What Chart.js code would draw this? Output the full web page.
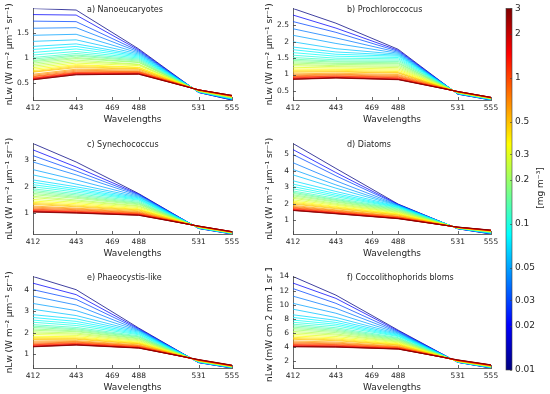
<!DOCTYPE html>
<html><head><meta charset="utf-8">
<script src="https://cdn.jsdelivr.net/npm/chart.js@4.4.1/dist/chart.umd.min.js"></script>
<style>
html,body{margin:0;padding:0;background:#fff;overflow:hidden;width:550px;height:394px;}
#wrap{position:relative;width:550px;height:394px;overflow:hidden;}
canvas{position:absolute;}
</style></head><body><div id="wrap"></div>
<script>
// ---------- data ----------
const chl = [0.01,0.02,0.03,0.04,0.05,0.06,0.07,0.08,0.09,0.1,
             0.12,0.14,0.16,0.18,0.2,0.23,0.26,0.3,0.35,0.4,0.45,0.5,0.6,0.7,0.8,0.9,1,1.2,1.5,2,2.5,3];
const wavelengths = [412,443,488,531,555];
const xTicks = [412,443,469,488,531,555];
const cbTicks = [0.01,0.02,0.03,0.05,0.1,0.2,0.3,0.5,1,2,3];

// a) Nanoeucaryotes
const a412 = [1.98,1.86,1.73,1.59,1.45,1.33,1.23,1.17,1.11,1.06,
  1.01,0.98,0.95,0.93,0.90,0.87,0.84,0.81,0.78,0.75,0.73,0.72,0.68,0.66,0.64,0.63,0.61,0.60,0.59,0.58,0.57,0.57];
const a443 = [1.95,1.85,1.72,1.60,1.47,1.36,1.28,1.23,1.18,1.13,
  1.09,1.06,1.04,1.01,0.99,0.96,0.93,0.90,0.87,0.85,0.83,0.81,0.78,0.76,0.74,0.72,0.71,0.70,0.69,0.68,0.67,0.67];
const a488 = [1.18,1.16,1.14,1.12,1.10,1.08,1.06,1.04,1.02,1.00,
  0.98,0.96,0.94,0.92,0.91,0.88,0.87,0.85,0.82,0.81,0.79,0.78,0.76,0.74,0.73,0.72,0.71,0.70,0.69,0.69,0.68,0.68];
const a531 = [0.32,0.32,0.32,0.33,0.33,0.33,0.33,0.33,0.34,0.34,
  0.34,0.34,0.34,0.35,0.35,0.35,0.35,0.35,0.36,0.36,0.36,0.36,0.36,0.36,0.37,0.37,0.37,0.37,0.37,0.37,0.37,0.37];
const a555 = [0.17,0.17,0.18,0.18,0.19,0.19,0.19,0.20,0.20,0.20,
  0.21,0.21,0.21,0.22,0.22,0.22,0.23,0.23,0.23,0.24,0.24,0.24,0.24,0.25,0.25,0.25,0.25,0.25,0.26,0.26,0.26,0.26];
const aTicks = [0.5,1,1.5];

// b) Prochloroccocus
const b412 = [3.02,2.82,2.62,2.40,2.20,2.00,1.84,1.76,1.67,1.59,
  1.52,1.47,1.43,1.39,1.35,1.31,1.27,1.22,1.17,1.13,1.10,1.07,1.02,0.99,0.96,0.94,0.92,0.90,0.88,0.86,0.86,0.85];
const b443 = [2.57,2.42,2.29,2.12,1.95,1.79,1.69,1.62,1.56,1.50,
  1.45,1.41,1.38,1.34,1.31,1.27,1.24,1.20,1.16,1.13,1.10,1.08,1.04,1.01,0.99,0.96,0.95,0.93,0.91,0.90,0.90,0.89];
const b488 = [1.77,1.74,1.71,1.68,1.65,1.62,1.59,1.56,1.52,1.48,
  1.44,1.40,1.36,1.33,1.29,1.25,1.21,1.17,1.13,1.09,1.06,1.04,1.00,0.97,0.94,0.92,0.90,0.88,0.86,0.85,0.85,0.84];
const b531 = [0.40,0.40,0.41,0.41,0.41,0.42,0.42,0.42,0.43,0.43,
  0.43,0.44,0.44,0.44,0.45,0.45,0.45,0.45,0.46,0.46,0.46,0.46,0.47,0.47,0.47,0.47,0.47,0.48,0.48,0.48,0.48,0.48];
const b555 = [0.22,0.22,0.23,0.23,0.23,0.24,0.24,0.24,0.25,0.25,
  0.25,0.26,0.26,0.26,0.27,0.27,0.27,0.27,0.28,0.28,0.28,0.28,0.29,0.29,0.29,0.29,0.29,0.30,0.30,0.30,0.30,0.30];
const bTicks = [0.5,1,1.5,2,2.5];

// c) Synechococcus
const c412 = [3.64,3.40,3.18,2.94,2.65,2.45,2.26,2.17,2.08,2.00,
  1.92,1.86,1.81,1.75,1.70,1.64,1.59,1.52,1.46,1.41,1.37,1.33,1.27,1.23,1.19,1.15,1.13,1.10,1.08,1.06,1.05,1.04];
const c443 = [2.94,2.75,2.60,2.45,2.26,2.10,2.00,1.92,1.86,1.80,
  1.74,1.69,1.64,1.60,1.56,1.50,1.46,1.41,1.36,1.31,1.27,1.24,1.19,1.16,1.13,1.10,1.07,1.05,1.03,1.02,1.01,1.00];
const c488 = [1.74,1.72,1.70,1.67,1.64,1.61,1.58,1.55,1.52,1.49,
  1.45,1.41,1.38,1.35,1.32,1.28,1.25,1.21,1.17,1.14,1.12,1.09,1.06,1.03,1.01,0.99,0.97,0.96,0.94,0.93,0.92,0.92];
const c531 = [0.42,0.42,0.43,0.43,0.43,0.44,0.44,0.44,0.45,0.45,
  0.45,0.46,0.46,0.46,0.47,0.47,0.47,0.48,0.48,0.48,0.49,0.49,0.49,0.49,0.50,0.50,0.50,0.50,0.51,0.51,0.51,0.51];
const c555 = [0.21,0.21,0.22,0.22,0.22,0.23,0.23,0.23,0.24,0.24,
  0.24,0.25,0.25,0.25,0.26,0.26,0.26,0.27,0.27,0.27,0.28,0.28,0.28,0.28,0.29,0.29,0.29,0.29,0.30,0.30,0.30,0.30];
const cTicks = [1,2,3];

// d) Diatoms
const d412 = [5.67,5.30,5.00,4.50,4.09,3.76,3.40,3.20,3.05,2.91,
  2.78,2.70,2.63,2.55,2.48,2.40,2.33,2.24,2.16,2.09,2.03,1.98,1.90,1.84,1.79,1.75,1.71,1.67,1.64,1.61,1.60,1.59];
const d443 = [4.15,3.90,3.70,3.40,3.15,2.95,2.75,2.62,2.52,2.43,
  2.33,2.26,2.21,2.15,2.10,2.03,1.97,1.91,1.84,1.79,1.74,1.70,1.63,1.59,1.55,1.51,1.48,1.46,1.43,1.41,1.40,1.39];
const d488 = [1.98,1.96,1.94,1.92,1.90,1.88,1.85,1.82,1.79,1.76,
  1.72,1.68,1.64,1.60,1.56,1.52,1.48,1.44,1.39,1.36,1.32,1.30,1.25,1.22,1.20,1.17,1.15,1.13,1.12,1.10,1.10,1.09];
const d531 = [0.48,0.48,0.49,0.49,0.50,0.50,0.50,0.51,0.51,0.51,
  0.52,0.52,0.52,0.53,0.53,0.53,0.54,0.54,0.54,0.55,0.55,0.55,0.56,0.56,0.56,0.56,0.57,0.57,0.57,0.58,0.58,0.58];
const d555 = [0.16,0.17,0.18,0.19,0.20,0.21,0.22,0.23,0.24,0.25,
  0.26,0.27,0.28,0.29,0.30,0.30,0.31,0.32,0.33,0.33,0.34,0.35,0.35,0.36,0.36,0.37,0.37,0.38,0.38,0.39,0.39,0.40];
const dTicks = [1,2,3,4,5];

// e) Phaeocystis-like
const e412 = [4.61,4.30,4.00,3.70,3.36,3.09,2.84,2.71,2.59,2.49,
  2.38,2.31,2.25,2.18,2.12,2.05,1.99,1.92,1.84,1.78,1.73,1.69,1.62,1.57,1.52,1.48,1.45,1.42,1.39,1.37,1.36,1.35];
const e443 = [4.00,3.77,3.55,3.29,3.03,2.80,2.65,2.53,2.43,2.34,
  2.25,2.19,2.14,2.09,2.05,1.99,1.94,1.88,1.82,1.77,1.73,1.70,1.64,1.60,1.57,1.54,1.51,1.49,1.46,1.45,1.44,1.43];
const e488 = [2.22,2.19,2.16,2.13,2.10,2.07,2.03,1.99,1.95,1.91,
  1.86,1.82,1.79,1.75,1.72,1.68,1.64,1.60,1.56,1.53,1.50,1.48,1.44,1.41,1.39,1.36,1.35,1.33,1.31,1.30,1.30,1.29];
const e531 = [0.62,0.62,0.63,0.63,0.64,0.64,0.65,0.65,0.66,0.66,
  0.67,0.67,0.68,0.68,0.69,0.69,0.70,0.70,0.71,0.71,0.72,0.72,0.72,0.73,0.73,0.74,0.74,0.74,0.75,0.75,0.76,0.76];
const e555 = [0.37,0.37,0.38,0.38,0.39,0.39,0.40,0.40,0.41,0.41,
  0.42,0.42,0.43,0.43,0.43,0.44,0.44,0.45,0.45,0.45,0.46,0.46,0.47,0.47,0.47,0.48,0.48,0.48,0.49,0.49,0.50,0.50];
const eTicks = [1,2,3,4];

// f) Coccolithophorids bloms
const f412 = [14.0,13.07,12.29,11.22,10.2,9.37,8.58,8.21,7.84,7.52,
  7.25,7.03,6.83,6.64,6.45,6.23,6.03,5.81,5.59,5.39,5.23,5.11,4.88,4.72,4.59,4.47,4.37,4.27,4.18,4.11,4.08,4.05];
const f443 = [11.36,10.9,10.2,9.5,8.8,8.2,7.8,7.5,7.24,7.0,
  6.75,6.56,6.39,6.23,6.06,5.87,5.71,5.51,5.32,5.16,5.02,4.91,4.72,4.58,4.47,4.36,4.28,4.19,4.11,4.06,4.03,4.00];
const f488 = [6.4,6.3,6.2,6.1,6.0,5.9,5.8,5.7,5.6,5.5,
  5.35,5.24,5.14,5.04,4.94,4.83,4.73,4.62,4.50,4.41,4.32,4.26,4.14,4.06,4.00,3.93,3.88,3.83,3.79,3.75,3.74,3.72];
const f531 = [1.85,1.86,1.87,1.88,1.89,1.90,1.91,1.92,1.93,1.94,
  1.95,1.96,1.97,1.98,1.99,2.00,2.01,2.02,2.03,2.04,2.05,2.06,2.08,2.09,2.10,2.12,2.13,2.14,2.16,2.17,2.19,2.20];
const f555 = [1.05,1.06,1.08,1.09,1.11,1.12,1.14,1.15,1.17,1.18,
  1.20,1.21,1.23,1.24,1.26,1.27,1.29,1.30,1.32,1.33,1.35,1.36,1.38,1.39,1.41,1.42,1.44,1.45,1.46,1.47,1.49,1.50];
const fTicks = [2,4,6,8,10,12,14];

const titles = ['a) Nanoeucaryotes','b) Prochloroccocus','c) Synechococcus','d) Diatoms','e) Phaeocystis-like','f) Coccolithophorids bloms'];
const ylabelW = 'nLw (W m\u207B\u00B2 \u03BCm\u207B\u00B9 sr\u207B\u00B9)';
const ylabelF = 'nLw (mW cm 2 mm 1 sr 1)';
const cbLabel = '[mg m\u207B\u00B3]';

// ---------- styling / layout ----------
const FONT = '"DejaVu Sans", sans-serif';
const TXT = '#262626';
const AX = '#404040';
function jet(t){
  t = Math.max(0, Math.min(1, t));
  const c = v => Math.round(255*Math.max(0, Math.min(1, v)));
  return 'rgb(' + c(1.5-Math.abs(4*t-3)) + ',' + c(1.5-Math.abs(4*t-2)) + ',' + c(1.5-Math.abs(4*t-1)) + ')';
}
const cmin = cbTicks[0], cmax = cbTicks[cbTicks.length-1];
const colorOf = v => jet(Math.log(v/cmin)/Math.log(cmax/cmin));

const panels = [
  {title:titles[0], rows:[a412,a443,a488,a531,a555], yt:aTicks, yl:ylabelW, left:0,   top:0,   w:245, h:130},
  {title:titles[1], rows:[b412,b443,b488,b531,b555], yt:bTicks, yl:ylabelW, left:260, top:0,   w:244, h:130},
  {title:titles[2], rows:[c412,c443,c488,c531,c555], yt:cTicks, yl:ylabelW, left:0,   top:135, w:245, h:129},
  {title:titles[3], rows:[d412,d443,d488,d531,d555], yt:dTicks, yl:ylabelW, left:260, top:135, w:244, h:129},
  {title:titles[4], rows:[e412,e443,e488,e531,e555], yt:eTicks, yl:ylabelW, left:0,   top:268, w:245, h:130},
  {title:titles[5], rows:[f412,f443,f488,f531,f555], yt:fTicks, yl:ylabelF, left:260, top:268, w:244, h:130}
];

const wrap = document.getElementById('wrap');
function makeCanvas(l,t,w,h){
  const cv = document.createElement('canvas');
  cv.width = w; cv.height = h;
  cv.style.left = l+'px'; cv.style.top = t+'px';
  cv.style.width = w+'px'; cv.style.height = h+'px';
  wrap.appendChild(cv);
  return cv;
}

panels.forEach(p => {
  const cv = makeCanvas(p.left, p.top, p.w, p.h);
  const all = [].concat(...p.rows).filter(v => typeof v === 'number');
  const ymin = Math.min(...all), ymax = Math.max(...all);
  const datasets = chl.map((c,i) => ({
    data: wavelengths.map((w,j) => ({x:w, y:p.rows[j][i]})),
    borderColor: colorOf(c), borderWidth: 0.75, pointRadius: 0, tension: 0, fill: false,
    order: chl.length - i
  }));
  const deco = {
    id: 'deco',
    afterDraw(chart){
      const {ctx, chartArea:a, scales:{x,y}} = chart;
      ctx.save();
      ctx.strokeStyle = AX; ctx.lineWidth = 0.8;
      ctx.beginPath();
      xTicks.forEach(v => { const px = Math.round(x.getPixelForValue(v))+0.5; ctx.moveTo(px, a.bottom); ctx.lineTo(px, a.bottom-3); });
      p.yt.forEach(v => { const py = Math.round(y.getPixelForValue(v))+0.5; ctx.moveTo(a.left, py); ctx.lineTo(a.left+3, py); });
      ctx.stroke();
      ctx.fillStyle = TXT; ctx.font = '8px ' + FONT;
      ctx.textAlign = 'left'; ctx.textBaseline = 'middle';
      ctx.fillText(p.title, a.left + 54, a.top + 1.5);
      ctx.restore();
    }
  };
  new Chart(cv, {
    type: 'line',
    data: {datasets},
    options: {
      responsive: false, animation: false, devicePixelRatio: 1,
      layout: {padding: {left:0, right:13, top:6, bottom:0}},
      plugins: {legend:{display:false}, tooltip:{enabled:false}},
      scales: {
        x: {
          type:'linear', min: wavelengths[0], max: wavelengths[wavelengths.length-1],
          afterBuildTicks: s => { s.ticks = xTicks.map(v => ({value:v})); },
          afterFit: s => { s.height = 30; },
          grid: {display:false, drawTicks:false},
          border: {display:true, color:AX, width:0.8},
          ticks: {font:{family:FONT, size:7.5}, color:TXT, padding:4, maxRotation:0, autoSkip:false, callback: v => String(v)},
          title: {display:true, text:'Wavelengths', font:{family:FONT, size:9}, color:TXT, padding:{top:0, bottom:5}}
        },
        y: {
          type:'linear', min: ymin, max: ymax,
          afterBuildTicks: s => { s.ticks = p.yt.map(v => ({value:v})); },
          afterFit: s => { s.width = 33; },
          grid: {display:false, drawTicks:false},
          border: {display:true, color:AX, width:0.8},
          ticks: {font:{family:FONT, size:7.5}, color:TXT, padding:4, autoSkip:false, callback: v => String(v)},
          title: {display:true, text:p.yl, font:{family:FONT, size:9}, color:TXT, padding:{top:4, bottom:0}}
        }
      }
    },
    plugins: [deco]
  });
});

// ---------- colorbar ----------
const cb = makeCanvas(490, 0, 60, 394);
const cbPlugin = {
  id: 'cbar',
  afterDraw(chart){
    const {ctx, chartArea:a, scales:{y}} = chart;
    ctx.save();
    const g = ctx.createLinearGradient(0, a.bottom, 0, a.top);
    for (let k = 0; k <= 40; k++){ const t = k/40; g.addColorStop(t, jet(t)); }
    ctx.fillStyle = g;
    ctx.fillRect(a.left, a.top, a.right-a.left, a.bottom-a.top);
    ctx.strokeStyle = AX; ctx.lineWidth = 0.6;
    ctx.strokeRect(a.left, a.top, a.right-a.left, a.bottom-a.top);
    ctx.beginPath();
    cbTicks.forEach(v => { const py = Math.round(y.getPixelForValue(v))+0.5; ctx.moveTo(a.right-2, py); ctx.lineTo(a.right, py); });
    ctx.stroke();
    ctx.fillStyle = TXT; ctx.font = '9px ' + FONT;
    ctx.textAlign = 'center'; ctx.textBaseline = 'middle';
    ctx.translate(51, 188); ctx.rotate(-Math.PI/2);
    ctx.fillText(cbLabel, 0, 0);
    ctx.restore();
  }
};
new Chart(cb, {
  type: 'scatter',
  data: {datasets: []},
  options: {
    responsive:false, animation:false, devicePixelRatio:1,
    layout: {padding:{left:16, right:0, top:7, bottom:24}},
    plugins: {legend:{display:false}, tooltip:{enabled:false}},
    scales: {
      x: {display:false, min:0, max:1},
      y: {
        type:'logarithmic', position:'right', min:cmin, max:cmax,
        afterBuildTicks: s => { s.ticks = cbTicks.map(v => ({value:v})); },
        afterFit: s => { s.width = 38; },
        grid: {display:false, drawTicks:false},
        border: {display:false},
        ticks: {font:{family:FONT, size:9}, color:TXT, padding:3, autoSkip:false, callback: v => String(v)}
      }
    }
  },
  plugins: [cbPlugin]
});
</script>
</body></html>
